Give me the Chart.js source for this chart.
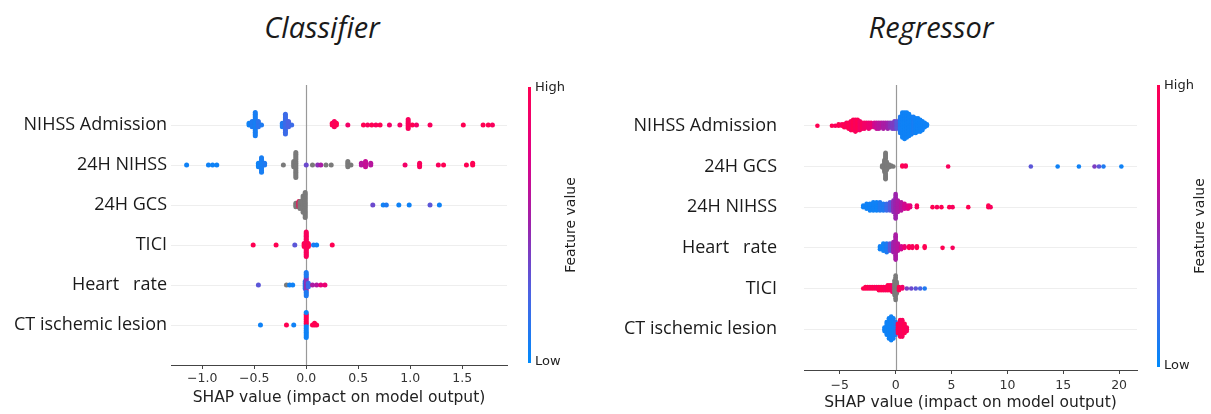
<!DOCTYPE html>
<html><head><meta charset="utf-8">
<script src="https://cdn.jsdelivr.net/npm/chart.js@4.4.1/dist/chart.umd.min.js"></script>
<style>
html,body{margin:0;padding:0;background:#fff;}
#wrap{position:relative;width:1211px;height:414px;overflow:hidden;background:#fff;}
.t{position:absolute;font-family:'Open Sans',sans-serif;font-style:italic;font-size:29px;color:#1a1a1a;line-height:29px;white-space:nowrap;transform:translateX(-50%);}
canvas{position:absolute;top:0;}
</style></head><body>
<div id="wrap">
<div class="t" style="left:322px;top:12px">Classifier</div>
<div class="t" style="left:931px;top:12px">Regressor</div>
<canvas id="c1" width="600" height="414" style="left:0;width:600px;height:414px"></canvas>
<canvas id="c2" width="611" height="414" style="left:600px;width:611px;height:414px"></canvas>
</div>
<script>
// ---------- DATA: each entry = [SHAP value, feature value (0 low .. 1 high, null = missing), number of samples] ----------
const clsFeatures = ['NIHSS Admission', '24H NIHSS', '24H GCS', 'TICI', 'Heart   rate', 'CT ischemic lesion'];
const clsTicks = [-1.0, -0.5, 0.0, 0.5, 1.0, 1.5];
const clsNihssAdm = [
  [-0.55,0.05,2],[-0.52,0.1,4],[-0.49,0.08,14],[-0.46,0.15,4],[-0.43,0.1,1],
  [-0.23,0.1,3],[-0.20,0.2,12],[-0.17,0.25,4],[-0.14,0.2,1],
  [0.25,1,2],[0.27,0.95,4],[0.29,1,2],[0.40,0.9,1],
  [0.55,1,1],[0.59,0.95,1],[0.63,1,1],[0.67,0.95,1],[0.71,1,1],
  [0.80,0.9,1],[0.90,0.9,1],[0.98,0.95,6],[1.02,1,1],[1.06,0.9,1],
  [1.19,0.95,1],[1.51,1,1],[1.70,1,1],[1.75,1,1],[1.79,0.95,1]
];
const clsNihss24 = [
  [-1.15,0.05,1],[-0.94,0.05,1],[-0.90,0.05,1],[-0.86,0.05,1],
  [-0.46,0.05,3],[-0.43,0.08,9],[-0.40,0.1,2],
  [-0.22,null,1],[-0.12,null,4],[-0.10,null,15],[0.0,0.35,1],
  [0.06,null,1],[0.11,0.45,1],[0.14,0.55,1],[0.19,null,1],[0.24,null,1],
  [0.40,null,4],[0.43,null,1],
  [0.53,0.6,2],[0.57,0.65,4],[0.62,0.6,2],
  [0.95,0.9,1],[1.09,0.95,3],[1.27,0.95,1],[1.32,1,1],[1.54,1,1],[1.60,1,2]
];
const clsGcs24 = [
  [-0.10,null,3],[-0.07,1,4],[-0.06,null,5],[-0.03,null,10],[-0.01,null,15],
  [0.64,0.35,1],[0.74,0.05,1],[0.77,0.1,1],[0.89,0.05,1],[0.99,0.05,1],[1.19,0.3,1],[1.28,0.05,1]
];
const clsTici = [
  [-0.51,1,1],[-0.29,1,1],[-0.11,0.3,1],
  [-0.02,1,3],[0.0,0.95,18],[0.02,1,3],
  [0.07,0.1,1],[0.10,0.05,1],[0.25,1,1]
];
const clsHeart = [
  [-0.46,0.3,1],[-0.19,null,1],[-0.16,0.05,1],[-0.13,0.05,1],
  [-0.01,0.1,5],[0.0,0.45,8],[0.0,0.1,6],[0.02,0.2,3],
  [0.06,0.55,1],[0.10,0.6,1],[0.14,0.8,1],[0.18,0.85,1]
];
const clsCt = [
  [-0.44,0.05,1],[-0.19,1,1],[-0.12,0.05,1],
  [0.0,0.05,1],[0.0,1,1],[0.0,0.05,1],[0.0,1,1],[0.0,0.05,1],[0.0,1,1],[0.0,0.05,1],[0.0,1,1],
  [0.0,0.05,1],[0.0,1,1],[0.0,0.05,1],[0.0,1,1],[0.0,0.05,3],
  [0.06,1,1],[0.08,1,2],[0.10,1,1]
];

const regFeatures = ['NIHSS Admission', '24H GCS', '24H NIHSS', 'Heart   rate', 'TICI', 'CT ischemic lesion'];
const regTicks = [-5, 0, 5, 10, 15, 20];
const regNihssAdm = [
  [-7.0,1,1],[-5.7,1,1],[-5.4,0.95,1],[-5.1,1,2],[-4.8,0.95,2],
  [-4.6,1,3],[-4.4,0.95,4],[-4.2,1,5],[-4.0,0.95,7],[-3.8,1,8],[-3.6,0.95,9],[-3.4,1,8],
  [-3.2,0.9,7],[-3.0,0.95,5],[-2.8,0.9,5],[-2.6,0.9,4],[-2.4,0.85,5],[-2.2,0.85,4],
  [-1.9,0.7,4],[-1.7,0.65,5],[-1.5,0.6,5],[-1.3,0.6,4],[-1.1,0.55,5],[-0.9,0.55,4],
  [-0.7,0.5,5],[-0.5,0.45,4],[-0.3,0.4,5],[-0.1,0.4,6],[0.1,0.3,6],
  [0.4,0.1,12],[0.6,0.05,18],[0.8,0.05,19],[1.0,0.05,18],[1.2,0.05,16],[1.4,0.05,13],
  [1.6,0.08,12],[1.8,0.05,11],[2.0,0.05,10],[2.2,0.05,9],[2.4,0.05,7],[2.6,0.05,4],[2.8,0.05,2]
];
const regGcs24 = [
  [-1.2,null,3],[-1.0,null,14],[-0.9,null,16],[-0.8,null,10],[-0.6,null,4],[-0.4,null,2],[-0.2,null,1],
  [0.6,1,2],[0.9,0.95,2],[4.7,0.95,1],
  [12.1,0.3,1],[14.5,0.05,1],[16.4,0.05,1],[17.8,0.4,1],[18.2,0.3,1],[18.6,0.1,1],[20.2,0.05,1]
];
const regNihss24 = [
  [-2.9,0.05,2],[-2.6,0.05,4],[-2.3,0.05,5],[-2.0,0.05,6],[-1.7,0.05,6],[-1.4,0.1,6],
  [-1.1,0.1,5],[-0.8,0.2,5],[-0.5,0.3,6],
  [-0.2,0.45,8],[0.0,0.5,16],[0.2,0.55,8],
  [0.5,0.6,6],[0.8,0.7,4],[1.1,0.75,3],[1.3,0.8,2],
  [1.9,0.95,2],[3.3,1,1],[3.7,0.95,1],[4.1,1,1],[4.8,1,1],[5.1,0.95,1],[6.5,1,1],[8.3,1,2],[8.5,0.95,1]
];
const regHeart = [
  [-1.4,0.05,3],[-1.1,0.05,6],[-0.8,0.1,7],[-0.5,0.3,6],[-0.2,0.5,8],[0.0,0.55,18],
  [0.2,0.6,6],[0.5,0.7,3],[0.8,0.85,2],
  [1.2,1,2],[1.5,0.95,2],[1.9,1,2],[2.6,1,2],[4.2,1,1],[5.1,0.95,1]
];
const regTici = [
  [-2.9,1,1],[-2.7,1,2],[-2.5,1,2],[-2.3,0.95,2],[-2.1,1,2],[-1.9,1,2],[-1.7,0.95,2],
  [-1.5,1,3],[-1.3,1,3],[-1.1,1,3],[-0.9,0.95,3],[-0.7,1,4],[-0.5,1,4],[-0.3,0.9,5],
  [-0.1,null,10],[0.0,null,16],[0.1,null,8],
  [0.3,1,3],[0.6,0.9,2],[1.0,0.4,1],[1.4,0.35,1],[1.8,0.3,1],[2.2,0.25,1],[2.6,0.1,1]
];
const regCt = [
  [-1.0,0.05,3],[-0.8,0.05,8],[-0.6,0.05,12],[-0.4,0.05,14],[-0.2,0.05,12],[0.0,0.1,8],
  [0.2,1,6],[0.4,1,10],[0.6,0.95,10],[0.8,1,6],[1.0,0.95,3]
];

const clsRows = [clsNihssAdm, clsNihss24, clsGcs24, clsTici, clsHeart, clsCt];
const regRows = [regNihssAdm, regGcs24, regNihss24, regHeart, regTici, regCt];

// ---------- colour map (SHAP red_blue) ----------
const CMAP = [[0,[0,138,251]],[0.25,[75,99,227]],[0.5,[156,35,172]],[0.75,[224,0,134]],[1,[255,0,82]]];
function fvColor(fv){
  if (fv === null) return '#7a7a7a';
  for (let i = 1; i < CMAP.length; i++){
    if (fv <= CMAP[i][0]){
      const [a, ca] = CMAP[i-1], [b, cb] = CMAP[i];
      const t = (fv - a) / (b - a);
      const c = ca.map((v, k) => Math.round(v + (cb[k] - v) * t));
      return `rgb(${c[0]},${c[1]},${c[2]})`;
    }
  }
  return 'rgb(255,0,82)';
}

// ---------- beeswarm layout like shap (100 bins, alternate stacking) ----------
function swarm(rows){
  const pts = [];
  rows.forEach(([x, fv, n]) => { for (let k = 0; k < n; k++) pts.push({x, fv}); });
  const xs = pts.map(p => p.x);
  const mn = Math.min(...xs), mx = Math.max(...xs);
  const quant = xs.map(x => Math.round(100 * (x - mn) / (mx - mn + 1e-8)));
  const idx = pts.map((_, i) => i).sort((a, b) => quant[a] - quant[b] || a - b);
  const ys = new Array(pts.length).fill(0);
  let layer = 0, last = -1;
  idx.forEach(i => {
    if (quant[i] !== last) layer = 0;
    ys[i] = Math.ceil(layer / 2) * ((layer % 2) * 2 - 1);
    layer++; last = quant[i];
  });
  const scale = 0.9 * (0.4 / (Math.max(...ys) + 1));
  return pts.map((p, i) => ({x: p.x, off: ys[i] * scale, color: fvColor(p.fv)}));
}

const zeroLine = {
  id: 'zeroLine',
  beforeDatasetsDraw(chart){
    const {ctx, chartArea: a, scales: {x}} = chart;
    const px = Math.round(x.getPixelForValue(0)) + 0.5;
    ctx.save(); ctx.strokeStyle = '#999999'; ctx.lineWidth = 1.2;
    ctx.beginPath(); ctx.moveTo(px, a.top); ctx.lineTo(px, a.bottom); ctx.stroke(); ctx.restore();
  }
};
const colorBar = {
  id: 'colorBar',
  afterDraw(chart, args, o){
    const ctx = chart.ctx;
    ctx.save();
    const g = ctx.createLinearGradient(0, o.top, 0, o.bottom);
    for (let i = 0; i <= 20; i++) g.addColorStop(i / 20, fvColor(1 - i / 20));
    ctx.fillStyle = g;
    ctx.fillRect(o.x, o.top, 3, o.bottom - o.top);
    ctx.fillStyle = '#222';
    ctx.font = '13px "DejaVu Sans"';
    ctx.textBaseline = 'middle'; ctx.textAlign = 'left';
    ctx.fillText('High', o.x + 7, o.top + 1);
    ctx.fillText('Low', o.x + 7, o.bottom - 1);
    ctx.translate(o.labelX, (o.top + o.bottom) / 2);
    ctx.rotate(-Math.PI / 2);
    ctx.textAlign = 'center';
    ctx.font = '14px "DejaVu Sans"';
    ctx.fillText('Feature value', 0, 0);
    ctx.restore();
  }
};

function makeChart(id, feats, rowsList, tickVals, c){
  const datasets = rowsList.map((rows, i) => {
    const s = swarm(rows);
    return {
      label: feats[i],
      data: s.map(p => ({x: p.x, y: i - p.off})),
      pointBackgroundColor: s.map(p => p.color),
      pointRadius: c.r, pointBorderWidth: 0, pointHoverRadius: c.r, showLine: false
    };
  });
  return new Chart(document.getElementById(id), {
    type: 'scatter',
    data: {datasets},
    options: {
      responsive: false, animation: false, devicePixelRatio: 1,
      layout: {padding: {left: 0, right: c.padRight, top: c.top, bottom: 0}},
      plugins: {legend: {display: false}, tooltip: {enabled: false},
        colorBar: {x: c.cbX, top: c.cbTop, bottom: c.cbBottom, labelX: c.labelX}},
      scales: {
        x: {
          type: 'linear', min: c.xmin, max: c.xmax,
          afterBuildTicks: s => { s.ticks = tickVals.map(v => ({value: v})); },
          afterFit: s => { s.height = c.xHeight; },
          ticks: {callback: v => c.fmt(v).replace('-', '\u2212'), font: {family: 'DejaVu Sans', size: 12.5},
                  color: '#333', padding: c.tickPad, maxRotation: 0, autoSkip: false},
          grid: {display: true, drawOnChartArea: false, drawTicks: true, tickLength: 4, color: '#444', lineWidth: 1},
          border: {display: true, color: '#444', width: 1},
          title: {display: true, text: 'SHAP value (impact on model output)', color: '#222',
                  font: {family: 'DejaVu Sans', size: 15.5}, padding: {top: 0, bottom: c.titlePad}}
        },
        y: {
          type: 'linear', reverse: true, min: -1, max: 6,
          afterBuildTicks: s => { s.ticks = feats.map((_, i) => ({value: i})); },
          afterFit: s => { s.width = c.yWidth; },
          ticks: {callback: v => feats[v], font: {family: 'Open Sans', size: 18}, color: '#1a1a1a',
                  padding: c.labelPad, autoSkip: false},
          grid: {display: true, drawTicks: false, color: '#eeeeee', lineWidth: 1},
          border: {display: false}
        }
      }
    },
    plugins: [zeroLine, colorBar]
  });
}

makeChart('c1', clsFeatures, clsRows, clsTicks, {
  xmin: -1.3, xmax: 1.93, yWidth: 171, padRight: 93, top: 85, xHeight: 49, r: 2.5,
  labelPad: 4, tickPad: 2, titlePad: 7, fmt: v => v.toFixed(1),
  cbX: 528, cbTop: 87, cbBottom: 363, labelX: 571
});
makeChart('c2', regFeatures, regRows, regTicks, {
  xmin: -8.2, xmax: 21.6, yWidth: 204, padRight: 74, top: 85, xHeight: 44, r: 2.3,
  labelPad: 27, tickPad: 4, titlePad: 2, fmt: v => String(v),
  cbX: 557, cbTop: 85, cbBottom: 367, labelX: 600
});
</script>
</body></html>
